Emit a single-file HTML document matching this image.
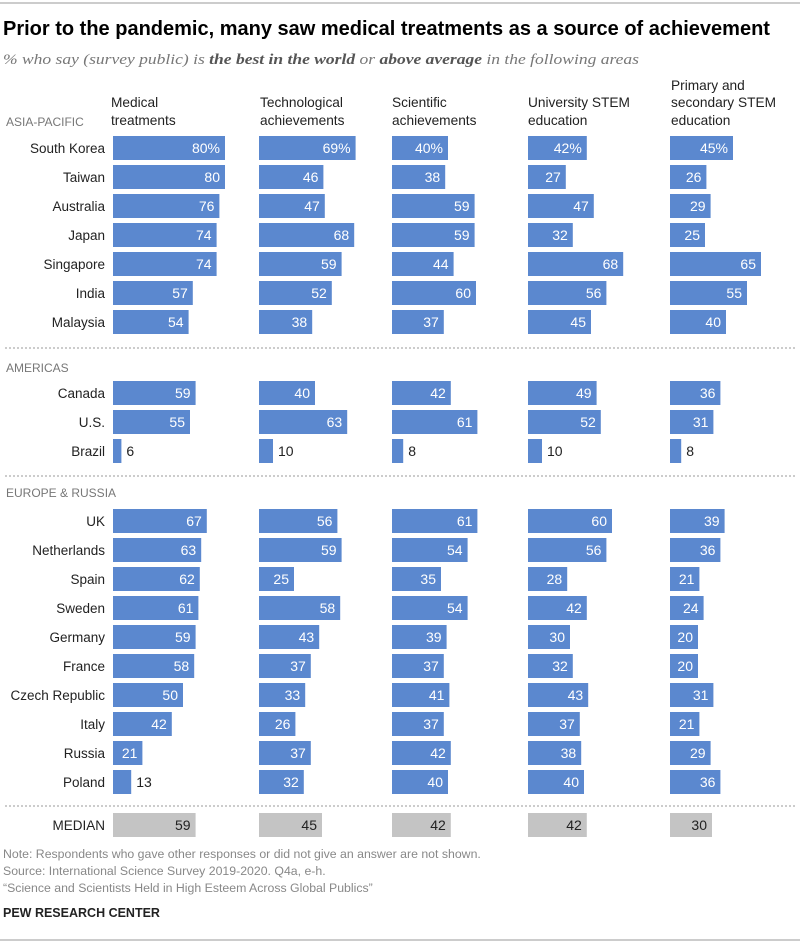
<!DOCTYPE html>
<html><head><meta charset="utf-8"><style>
body{margin:0;background:#fff;width:800px;height:943px;overflow:hidden}
svg text{font-family:"Liberation Sans",sans-serif}
</style></head><body>
<svg width="800" height="943" xmlns="http://www.w3.org/2000/svg" id="s">
<line x1="0" y1="3" x2="800" y2="3" stroke="#999" stroke-width="1"/>
<line x1="0" y1="940" x2="800" y2="940" stroke="#999" stroke-width="1"/>
<text x="3" y="35" font-size="20" font-weight="bold" fill="#000">Prior to the pandemic, many saw medical treatments as a source of achievement</text>
<text x="3" y="64" font-size="15" font-style="italic" fill="#777" textLength="636" lengthAdjust="spacingAndGlyphs" style="font-family:'Liberation Serif',serif">% who say (survey public) is <tspan font-weight="bold" fill="#555">the best in the world</tspan> or <tspan font-weight="bold" fill="#555">above average</tspan> in the following areas</text>
<g font-size="13.7" fill="#222">
<text x="111" y="107">Medical</text><text x="111" y="125">treatments</text>
<text x="260" y="107">Technological</text><text x="260" y="125">achievements</text>
<text x="392" y="107">Scientific</text><text x="392" y="125">achievements</text>
<text x="528" y="107">University STEM</text><text x="528" y="125">education</text>
<text x="671" y="90">Primary and</text><text x="671" y="107">secondary STEM</text><text x="671" y="125">education</text>
</g>
<g font-size="12" fill="#777">
<text x="6" y="126">ASIA-PACIFIC</text>
<text x="6" y="372">AMERICAS</text>
<text x="6" y="497">EUROPE &amp; RUSSIA</text>
</g>
<g stroke="#999" stroke-dasharray="2,2" stroke-width="1">
<line x1="5" y1="348" x2="795" y2="348"/>
<line x1="5" y1="476" x2="795" y2="476"/>
<line x1="5" y1="806" x2="795" y2="806"/>
</g>
<g id="bars"></g>
<g font-size="12.3" fill="#888">
<text x="3" y="858">Note: Respondents who gave other responses or did not give an answer are not shown.</text>
<text x="3" y="875">Source: International Science Survey 2019-2020. Q4a, e-h.</text>
<text x="3" y="892">“Science and Scientists Held in High Esteem Across Global Publics”</text>
</g>
<text x="3" y="917" font-size="12.5" font-weight="bold" fill="#222">PEW RESEARCH CENTER</text>
</svg>
<script>
var cols=[113,259,392,528,670];
var rows=[
["South Korea",136,[80,69,40,42,45],1],["Taiwan",165,[80,46,38,27,26]],["Australia",194,[76,47,59,47,29]],["Japan",223,[74,68,59,32,25]],["Singapore",252,[74,59,44,68,65]],["India",281,[57,52,60,56,55]],["Malaysia",310,[54,38,37,45,40]],
["Canada",381,[59,40,42,49,36]],["U.S.",410,[55,63,61,52,31]],["Brazil",439,[6,10,8,10,8]],
["UK",509,[67,56,61,60,39]],["Netherlands",538,[63,59,54,56,36]],["Spain",567,[62,25,35,28,21]],["Sweden",596,[61,58,54,42,24]],["Germany",625,[59,43,39,30,20]],["France",654,[58,37,37,32,20]],["Czech Republic",683,[50,33,41,43,31]],["Italy",712,[42,26,37,37,21]],["Russia",741,[21,37,42,38,29]],["Poland",770,[13,32,40,40,36]],
["MEDIAN",813,[59,45,42,42,30],0,1]];
var h="";
rows.forEach(function(r){
 var y=r[1];
 h+='<text x="105" y="'+(y+17)+'" font-size="13.5" text-anchor="end" fill="#222">'+r[0]+'</text>';
 r[2].forEach(function(v,i){
  var x=cols[i],w=v*1.4,med=r[4];
  h+='<rect x="'+x+'" y="'+y+'" width="'+w+'" height="24" fill="'+(med?'#c4c4c4':'#5b88cf')+'"/>';
  var lab=v+(r[3]?'%':'');
  if(v<=13) h+='<text x="'+(x+w+5)+'" y="'+(y+17)+'" font-size="14" fill="#222">'+v+'</text>';
  else h+='<text x="'+(x+w-5)+'" y="'+(y+17)+'" font-size="14" text-anchor="end" fill="'+(med?'#222':'#fff')+'">'+lab+'</text>';
 });
});
document.getElementById('bars').innerHTML=h;
</script>
</body></html>
